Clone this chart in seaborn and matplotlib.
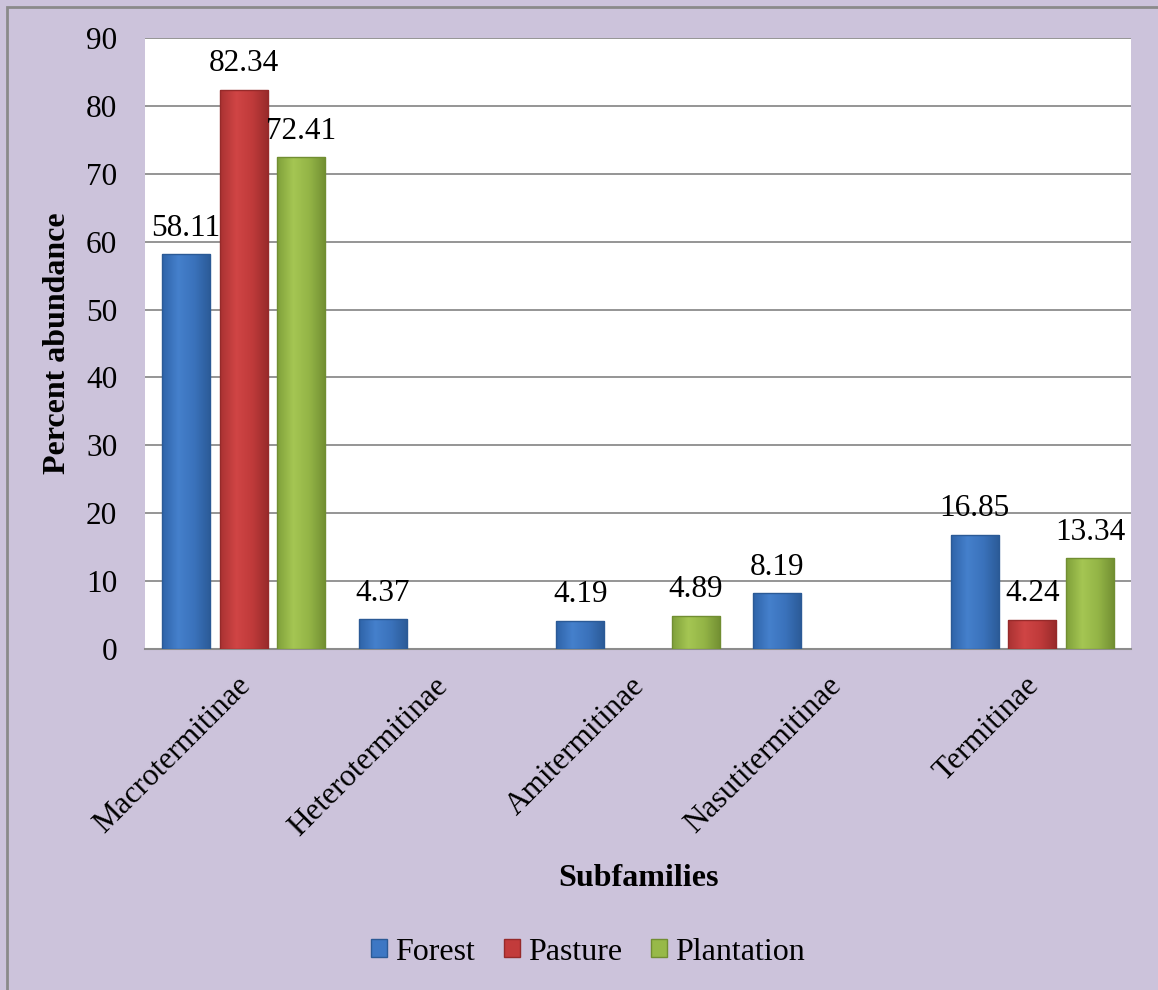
import numpy as np
import pandas as pd
import matplotlib
matplotlib.use("Agg")
import matplotlib.pyplot as plt
import seaborn as sns
from matplotlib.patches import Patch, Rectangle
from matplotlib.colors import LinearSegmentedColormap
from matplotlib.transforms import ScaledTranslation

subfamilies = ["Macrotermitinae", "Heterotermitinae", "Amitermitinae", "Nasutitermitinae", "Termitinae"]
habitats = ["Forest", "Pasture", "Plantation"]
forest = [58.11, 4.37, 4.19, 8.19, 16.85]
pasture = [82.34, np.nan, np.nan, np.nan, 4.24]
plantation = [72.41, np.nan, 4.89, np.nan, 13.34]
yticks = [0, 10, 20, 30, 40, 50, 60, 70, 80, 90]

df = pd.DataFrame({
    "Subfamily": subfamilies * 3,
    "Habitat": [h for h in habitats for _ in subfamilies],
    "Value": forest + pasture + plantation,
})

base = {"Forest": "#3D77C4", "Pasture": "#C23B3B", "Plantation": "#97B948"}
grad = {
    "Forest": ["#2E63A8", "#4580CC", "#3A72BB", "#2B5A96"],
    "Pasture": ["#A93232", "#D04545", "#BF3A3A", "#962A2A"],
    "Plantation": ["#7FA03A", "#A5C653", "#93B446", "#718E32"],
}

sns.set_theme(style="white")
plt.rcParams["font.family"] = ["Liberation Serif", "DejaVu Serif"]
plt.rcParams["text.color"] = "black"
plt.rcParams["axes.labelcolor"] = "black"
plt.rcParams["xtick.color"] = "black"
plt.rcParams["ytick.color"] = "black"

fig = plt.figure(figsize=(11.58, 9.9), dpi=100)
fig.patch.set_facecolor("#CCC3DB")
ax = fig.add_axes([145/1158, 1-649/990, (1131-145)/1158, (649-38)/990])
ax.set_facecolor("white")

sns.barplot(data=df, x="Subfamily", y="Value", hue="Habitat", hue_order=habitats,
            order=subfamilies, palette=base, width=0.88, gap=0.17, ax=ax,
            legend=False, saturation=1, linewidth=0, zorder=3)

ax.set_ylim(0, 90)
ax.set_yticks(yticks)
ax.yaxis.grid(True, color="#8C8C8C", linewidth=1.3, zorder=0)
ax.set_axisbelow(True)
for s in ["left", "right", "top"]:
    ax.spines[s].set_visible(False)
ax.spines["bottom"].set_color("#8C8C8C")
ax.spines["bottom"].set_linewidth(1.5)
ax.tick_params(axis="both", length=0, labelsize=22.5, colors="black")
ax.tick_params(axis="y", pad=20)
ax.tick_params(axis="x", pad=16)
plt.setp(ax.get_xticklabels(), rotation=45, ha="right", rotation_mode="anchor", color="black")
shift = ScaledTranslation(-8/100, 0, fig.dpi_scale_trans)
for lbl in ax.get_xticklabels():
    lbl.set_transform(lbl.get_transform() + shift)
for lbl in ax.get_yticklabels():
    lbl.set_color("black")

# gradient overlay on bars
for cont, h in zip(ax.containers, habitats):
    cmap = LinearSegmentedColormap.from_list(h, grad[h])
    g = np.linspace(0, 1, 256).reshape(1, -1)
    for p in cont.patches:
        hgt = p.get_height()
        if not np.isfinite(hgt) or hgt <= 0:
            continue
        x0 = p.get_x(); w = p.get_width()
        im = ax.imshow(g, cmap=cmap, aspect="auto", extent=[x0, x0 + w, 0, hgt],
                       zorder=4, interpolation="bicubic")
        im.set_clip_path(p)
        ax.add_patch(Rectangle((x0, 0), w, hgt, fill=False,
                               edgecolor=grad[h][3], linewidth=1.0, zorder=5))
    ax.bar_label(cont, fmt="%.2f", padding=8.5, fontsize=22.5, color="black", zorder=6)
ax.set_xlim(-0.5, 4.5)
ax.set_ylim(0, 90)

ax.set_xlabel("Subfamilies", fontsize=23, fontweight="bold", color="black")
ax.set_ylabel("Percent abundance", fontsize=23, fontweight="bold", color="black")
ax.xaxis.set_label_coords(0.5, -0.352)
ax.yaxis.set_label_coords(-0.074, 0.5)

handles = [Patch(facecolor=base[h], edgecolor=grad[h][3], label=h) for h in habitats]
leg = fig.legend(handles=handles, loc="center", bbox_to_anchor=(588/1158, 1-952/990), ncol=3,
                 frameon=False, fontsize=23, handlelength=0.5, handleheight=0.5,
                 handletextpad=0.25, columnspacing=0.9)
for t in leg.get_texts():
    t.set_color("black")

# outer border (left/top visible)
fig.add_artist(Rectangle((7/1158, -0.1), 1.2, 1 - 7/990 + 0.1, transform=fig.transFigure,
                         fill=False, edgecolor="#8A8A8A", linewidth=2))

fig.savefig("out.png", dpi=100, facecolor=fig.get_facecolor())
